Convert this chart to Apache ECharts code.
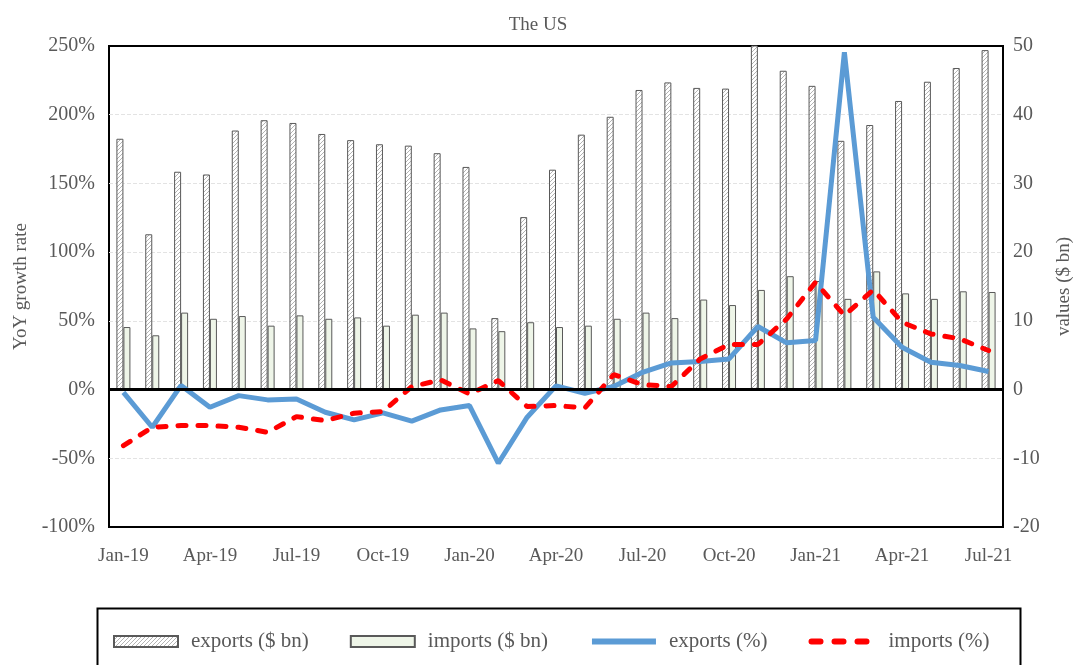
<!DOCTYPE html>
<html>
<head>
<meta charset="utf-8">
<title>The US</title>
<script src="https://cdn.jsdelivr.net/npm/echarts@6/dist/echarts.min.js"></script>
<style>
  html, body { margin: 0; padding: 0; background: #fff; }
  #chart { width: 1076px; height: 665px; }
</style>
</head>
<body>
<div id="chart"></div>
<script>
var months = ["Jan-19", "Feb-19", "Mar-19", "Apr-19", "May-19", "Jun-19", "Jul-19", "Aug-19", "Sep-19", "Oct-19", "Nov-19", "Dec-19",
  "Jan-20", "Feb-20", "Mar-20", "Apr-20", "May-20", "Jun-20", "Jul-20", "Aug-20", "Sep-20", "Oct-20", "Nov-20", "Dec-20",
  "Jan-21", "Feb-21", "Mar-21", "Apr-21", "May-21", "Jun-21", "Jul-21"];

// values, $ bn (right axis)
var exportsBn = [36.5, 22.6, 31.7, 31.3, 37.7, 39.2, 38.8, 37.2, 36.3, 35.7, 35.5, 34.4,
  32.4, 10.4, 25.1, 32.0, 37.1, 39.7, 43.6, 44.7, 43.9, 43.8, 51.8, 46.4,
  44.2, 36.2, 38.5, 42.0, 44.8, 46.8, 49.4];
var importsBn = [9.1, 7.9, 11.2, 10.3, 10.7, 9.3, 10.8, 10.3, 10.5, 9.3, 10.9, 11.2,
  8.9, 8.5, 9.8, 9.1, 9.3, 10.3, 11.2, 10.4, 13.1, 12.3, 14.5, 16.5,
  15.8, 13.2, 17.2, 14.0, 13.2, 14.3, 14.2];

// YoY growth, % (left axis)
var exportsPct = [-2, -27.4, 3, -12.9, -4.4, -7.5, -6.8, -16.5, -22.1, -17, -23, -14.8,
  -11.6, -53.6, -20.1, 2.7, -2.7, 2.2, 12.6, 19.4, 20.4, 22.3, 45.9, 34,
  35.7, 245.5, 52.6, 30.8, 19.9, 17.5, 13.1];
var importsPct = [-40.8, -27.4, -26.2, -26.2, -27.4, -31.1, -19.7, -22.6, -17.2, -16, 2.2, 7,
  -3.2, 6.5, -12.4, -11.6, -13.4, 10.9, 3.6, 2.2, 22.3, 32.8, 32.8, 51.4,
  78.1, 53.9, 72.6, 49, 40.5, 36.9, 28.4];

var FONT = "'Liberation Serif', 'Times New Roman', serif";
var GREY = "#595959";

// diagonal hatch for the exports bars
function hatch() {
  var c = document.createElement("canvas");
  c.width = 4;
  c.height = 4;
  var ctx = c.getContext("2d");
  ctx.fillStyle = "#ffffff";
  ctx.fillRect(0, 0, 4, 4);
  ctx.strokeStyle = "#b3b3b3";
  ctx.lineWidth = 1;
  ctx.beginPath();
  ctx.moveTo(0, 4);
  ctx.lineTo(4, 0);
  ctx.moveTo(-1, 1);
  ctx.lineTo(1, -1);
  ctx.moveTo(3, 5);
  ctx.lineTo(5, 3);
  ctx.stroke();
  return c;
}

var myChart = echarts.init(document.getElementById("chart"));
var option = {
  animation: false,
  backgroundColor: "#fff",
  title: {
    text: "The US",
    left: "center",
    top: 11,
    textStyle: { fontFamily: FONT, fontSize: 19, fontWeight: "normal", color: GREY },
  },
  grid: {
    left: 109,
    right: 73,
    top: 46,
    bottom: 138,
    outerBoundsMode: "none",
    show: true,
    borderColor: "#000",
    borderWidth: 2,
  },
  legend: {
    left: 113,
    top: 631,
    padding: 0,
    itemWidth: 64,
    itemHeight: 11,
    itemGap: 41,
    textStyle: { fontFamily: FONT, fontSize: 21, color: GREY, padding: [0, 0, 0, 8] },
    data: [
      { name: "exports ($ bn)", icon: "rect" },
      { name: "imports ($ bn)", icon: "rect" },
      {
        name: "exports (%)",
        icon: "inherit",
        itemStyle: { opacity: 0 },
        lineStyle: { width: 6, color: "#5b9bd5" },
      },
      {
        name: "imports (%)",
        icon: "inherit",
        itemStyle: { opacity: 0 },
        lineStyle: { width: 6, color: "#ff0000", type: [9, 14], cap: "round" },
      },
    ],
  },
  graphic: [
    {
      type: "rect",
      left: 95,
      top: 606,
      shape: { width: 923, height: 80 },
      style: { fill: "none", stroke: "#000", lineWidth: 2 },
      z: -1,
    },
  ],
  xAxis: {
    type: "category",
    data: months,
    axisLine: { show: false },
    axisTick: { show: false },
    axisLabel: { interval: 2, margin: 20, fontFamily: FONT, fontSize: 19, color: GREY },
  },
  yAxis: [
    {
      type: "value",
      min: -100,
      max: 250,
      interval: 50,
      name: "YoY growth rate",
      nameLocation: "middle",
      nameGap: 76,
      nameTextStyle: { fontFamily: FONT, fontSize: 19, color: GREY },
      axisLine: { show: false },
      axisTick: { show: false },
      axisLabel: { formatter: "{value}%", margin: 14, fontFamily: FONT, fontSize: 20, color: GREY },
      splitLine: {
        showMinLine: false,
        showMaxLine: false,
        lineStyle: { color: "#e3e3e3", type: "dashed" },
      },
    },
    {
      type: "value",
      min: -20,
      max: 50,
      interval: 10,
      name: "values ($ bn)",
      nameLocation: "middle",
      nameGap: 52,
      nameTextStyle: { fontFamily: FONT, fontSize: 19, color: GREY },
      axisLine: { show: false },
      axisTick: { show: false },
      axisLabel: { margin: 10, fontFamily: FONT, fontSize: 20, color: GREY },
      splitLine: { show: false },
    },
  ],
  series: [
    {
      name: "exports ($ bn)",
      type: "bar",
      yAxisIndex: 1,
      barWidth: 7,
      barGap: "0%",
      itemStyle: {
        color: { image: hatch(), repeat: "repeat" },
        borderColor: "#595959",
        borderWidth: 1,
      },
      data: exportsBn,
    },
    {
      name: "imports ($ bn)",
      type: "bar",
      yAxisIndex: 1,
      barWidth: 7,
      barGap: "0%",
      itemStyle: {
        color: "#eef5e8",
        borderColor: "#595959",
        borderWidth: 1,
      },
      data: importsBn,
      // zero line
      markLine: {
        silent: true,
        symbol: "none",
        label: { show: false },
        lineStyle: { color: "#000", width: 3, type: "solid" },
        data: [{ yAxis: 0 }],
      },
    },
    {
      name: "exports (%)",
      type: "line",
      yAxisIndex: 0,
      symbol: "none",
      lineStyle: { color: "#5b9bd5", width: 5 },
      itemStyle: { color: "#5b9bd5" },
      data: exportsPct,
    },
    {
      name: "imports (%)",
      type: "line",
      yAxisIndex: 0,
      symbol: "none",
      lineStyle: { color: "#ff0000", width: 5, type: [8, 12], cap: "round" },
      itemStyle: { color: "#ff0000" },
      data: importsPct,
    },
  ],
};
myChart.setOption(option);
window.addEventListener("resize", function () {
  myChart.resize();
});
</script>
</body>
</html>
